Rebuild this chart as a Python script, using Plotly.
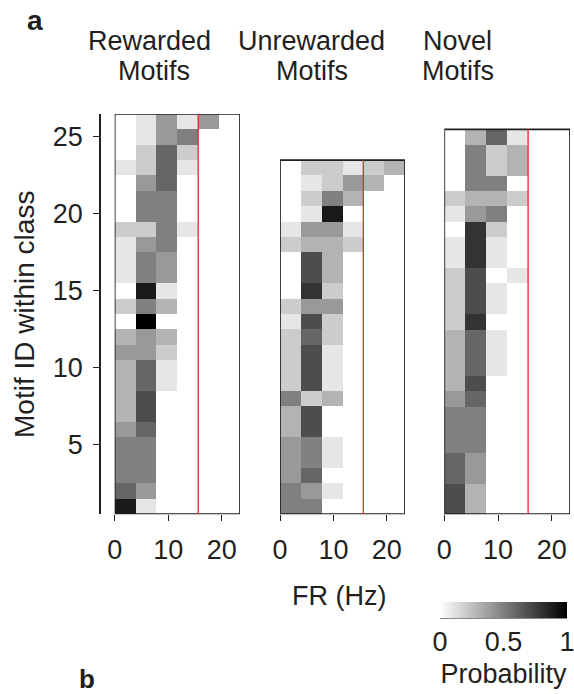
import plotly.graph_objects as go

# Firing-rate bin edges (Hz) shared by all three panels
fr_edges = [0, 3.9, 7.8, 11.7, 15.6, 19.5, 23.4]
fr_cutoff = 15.6
fr_ticks = [0, 10, 20]
motif_ticks = [5, 10, 15, 20, 25]
prob_ticks = [0, 0.5, 1]

# Probability of each FR bin, one row per motif (motif 1 first)
rewarded = [
    [0.9, 0.1], [0.6, 0.4], [0.5, 0.5], [0.5, 0.5], [0.5, 0.5],
    [0.4, 0.6], [0.3, 0.7], [0.3, 0.7], [0.3, 0.6, 0.1], [0.3, 0.6, 0.1],
    [0.4, 0.4, 0.2], [0.3, 0.4, 0.3], [0.0, 1.0], [0.2, 0.5, 0.3], [0.0, 0.9, 0.1],
    [0.1, 0.5, 0.4], [0.1, 0.5, 0.4], [0.1, 0.4, 0.5], [0.2, 0.2, 0.5, 0.1], [0.0, 0.5, 0.5],
    [0.0, 0.5, 0.5], [0.0, 0.4, 0.6], [0.1, 0.2, 0.6, 0.1], [0.0, 0.2, 0.6, 0.2],
    [0.0, 0.1, 0.4, 0.5], [0.0, 0.1, 0.4, 0.1, 0.4],
]
unrewarded = [
    [0.5, 0.5], [0.5, 0.4, 0.1], [0.4, 0.6], [0.4, 0.5, 0.1], [0.4, 0.5, 0.1],
    [0.3, 0.7], [0.3, 0.7], [0.5, 0.2, 0.3], [0.2, 0.7, 0.1], [0.2, 0.7, 0.1],
    [0.2, 0.7, 0.1], [0.2, 0.6, 0.2], [0.1, 0.7, 0.2], [0.2, 0.4, 0.4], [0.0, 0.8, 0.2],
    [0.0, 0.7, 0.3], [0.0, 0.7, 0.3], [0.2, 0.3, 0.3, 0.2], [0.1, 0.4, 0.4, 0.1],
    [0.0, 0.1, 0.9], [0.0, 0.2, 0.5, 0.3], [0.0, 0.1, 0.2, 0.4, 0.3],
    [0.0, 0.2, 0.2, 0.1, 0.2, 0.3],
]
novel = [
    [0.7, 0.3], [0.7, 0.3], [0.6, 0.4], [0.6, 0.4], [0.5, 0.5],
    [0.5, 0.5], [0.5, 0.5], [0.4, 0.6], [0.3, 0.7], [0.3, 0.6, 0.1],
    [0.3, 0.6, 0.1], [0.3, 0.6, 0.1], [0.2, 0.8], [0.2, 0.7, 0.1], [0.2, 0.7, 0.1],
    [0.2, 0.7, 0.0, 0.1], [0.1, 0.8, 0.1], [0.1, 0.8, 0.1], [0.0, 0.8, 0.2],
    [0.1, 0.4, 0.5], [0.2, 0.3, 0.3, 0.2], [0.0, 0.5, 0.5], [0.0, 0.5, 0.2, 0.3],
    [0.0, 0.5, 0.2, 0.3], [0.0, 0.3, 0.6, 0.1],
]

panel_titles = [("Rewarded", "Motifs"), ("Unrewarded", "Motifs"), ("Novel", "Motifs")]
panels = [rewarded, unrewarded, novel]

# ---- page geometry (pixels -> paper fractions) ----
W, H = 574, 694


def px(x):
    return x / W


def py(y):
    return 1 - y / H


INK = "#231f20"
FONT = "Liberation Sans, Arial, Helvetica, sans-serif"
FS = 27

x_domains = [(114.7, 240.0), (280.0, 405.0), (444.3, 570.0)]
y_dom = (py(514.2), py(113.9))
title_pos = [(149, 154), (311, 312), (457, 458)]

n_bins = len(fr_edges) - 1
fig = go.Figure()
shapes = []
annotations = []

for i, rows in enumerate(panels):
    z = [r + [0.0] * (n_bins - len(r)) for r in rows]
    motif_ids = list(range(1, len(rows) + 1))
    xa = "x" if i == 0 else f"x{i + 1}"
    fig.add_trace(go.Heatmap(
        z=z, x=fr_edges, y=motif_ids,
        coloraxis="coloraxis", xaxis=xa, yaxis="y",
        hoverinfo="skip", xgap=0, ygap=0,
    ))
    # frame around the panel's rows
    shapes.append(dict(type="rect", xref=xa, yref="y",
                       x0=fr_edges[0], x1=fr_edges[-1], y0=0.5, y1=len(rows) + 0.5,
                       line=dict(color=INK, width=1.7), layer="above"))
    # firing-rate cutoff
    shapes.append(dict(type="line", xref=xa, yref="y",
                       x0=fr_cutoff, x1=fr_cutoff, y0=0.5, y1=len(rows) + 0.5,
                       line=dict(color="#e8262b", width=1.3), layer="above"))
    axis = dict(
        domain=[px(x_domains[i][0]), px(x_domains[i][1])],
        range=[fr_edges[0], fr_edges[-1]], anchor="y",
        showgrid=False, zeroline=False, showline=False,
        tickmode="array", tickvals=fr_ticks, ticks="outside", ticklen=6,
        tickwidth=1.3, tickcolor=INK,
        tickfont=dict(family=FONT, size=FS, color=INK),
        ticklabelstandoff=5, automargin=False,
    )
    fig.layout["xaxis" if i == 0 else f"xaxis{i + 1}"] = axis

    top, bottom = panel_titles[i]
    annotations.append(dict(text=top, x=px(title_pos[i][0]), y=py(41), xref="paper", yref="paper",
                            showarrow=False, xanchor="center", yanchor="middle",
                            font=dict(family=FONT, size=FS, color=INK)))
    annotations.append(dict(text=bottom, x=px(title_pos[i][1]), y=py(71), xref="paper", yref="paper",
                            showarrow=False, xanchor="center", yanchor="middle",
                            font=dict(family=FONT, size=FS, color=INK)))

fig.update_layout(
    yaxis=dict(
        domain=list(y_dom), range=[0.5, 26.5], anchor="free", position=px(100),
        showgrid=False, zeroline=False, showline=True, linecolor=INK, linewidth=1.5,
        tickmode="array", tickvals=motif_ticks, ticks="outside", ticklen=6,
        tickwidth=1.3, tickcolor=INK,
        tickfont=dict(family=FONT, size=FS, color=INK),
        ticklabelstandoff=5, automargin=False,
    ),
)

# axis titles and panel letters
annotations += [
    dict(text="Motif ID within class", x=px(24), y=py(315), textangle=-90,
         xref="paper", yref="paper", showarrow=False, xanchor="center", yanchor="middle",
         font=dict(family=FONT, size=FS + 1, color=INK)),
    dict(text="FR (Hz)", x=px(339), y=py(596), xref="paper", yref="paper",
         showarrow=False, xanchor="center", yanchor="middle",
         font=dict(family=FONT, size=FS, color=INK)),
    dict(text="<b>a</b>", x=px(35), y=py(21), xref="paper", yref="paper",
         showarrow=False, xanchor="center", yanchor="middle",
         font=dict(family=FONT, size=28, color=INK)),
    dict(text="<b>b</b>", x=px(87), y=py(679), xref="paper", yref="paper",
         showarrow=False, xanchor="center", yanchor="middle",
         font=dict(family=FONT, size=26, color=INK)),
]

# thin rule under the colour bar
shapes.append(dict(type="line", xref="paper", yref="paper",
                   x0=px(440), x1=px(567), y0=py(618.5), y1=py(618.5),
                   line=dict(color="#8a8a8a", width=1.2)))

fig.update_layout(
    width=W, height=H,
    margin=dict(l=0, r=0, t=0, b=0, pad=0, autoexpand=False),
    paper_bgcolor="white", plot_bgcolor="white",
    showlegend=False,
    shapes=shapes, annotations=annotations,
    coloraxis=dict(
        cmin=0, cmax=1,
        colorscale=[[0, "#ffffff"], [1, "#000000"]],
        colorbar=dict(
            orientation="h", x=px(503.5), xanchor="center",
            y=py(602), yanchor="top", len=127, lenmode="pixels",
            thickness=16, outlinewidth=0, xpad=0, ypad=0,
            tickmode="array", tickvals=prob_ticks, ticktext=["0", "0.5", "1"],
            ticks="", ticklabeloverflow="allow",
            tickfont=dict(family=FONT, size=FS, color=INK),
            title=dict(text="Probability", side="bottom",
                       font=dict(family=FONT, size=FS, color=INK)),
        ),
    ),
)

fig.write_html("out.html")
